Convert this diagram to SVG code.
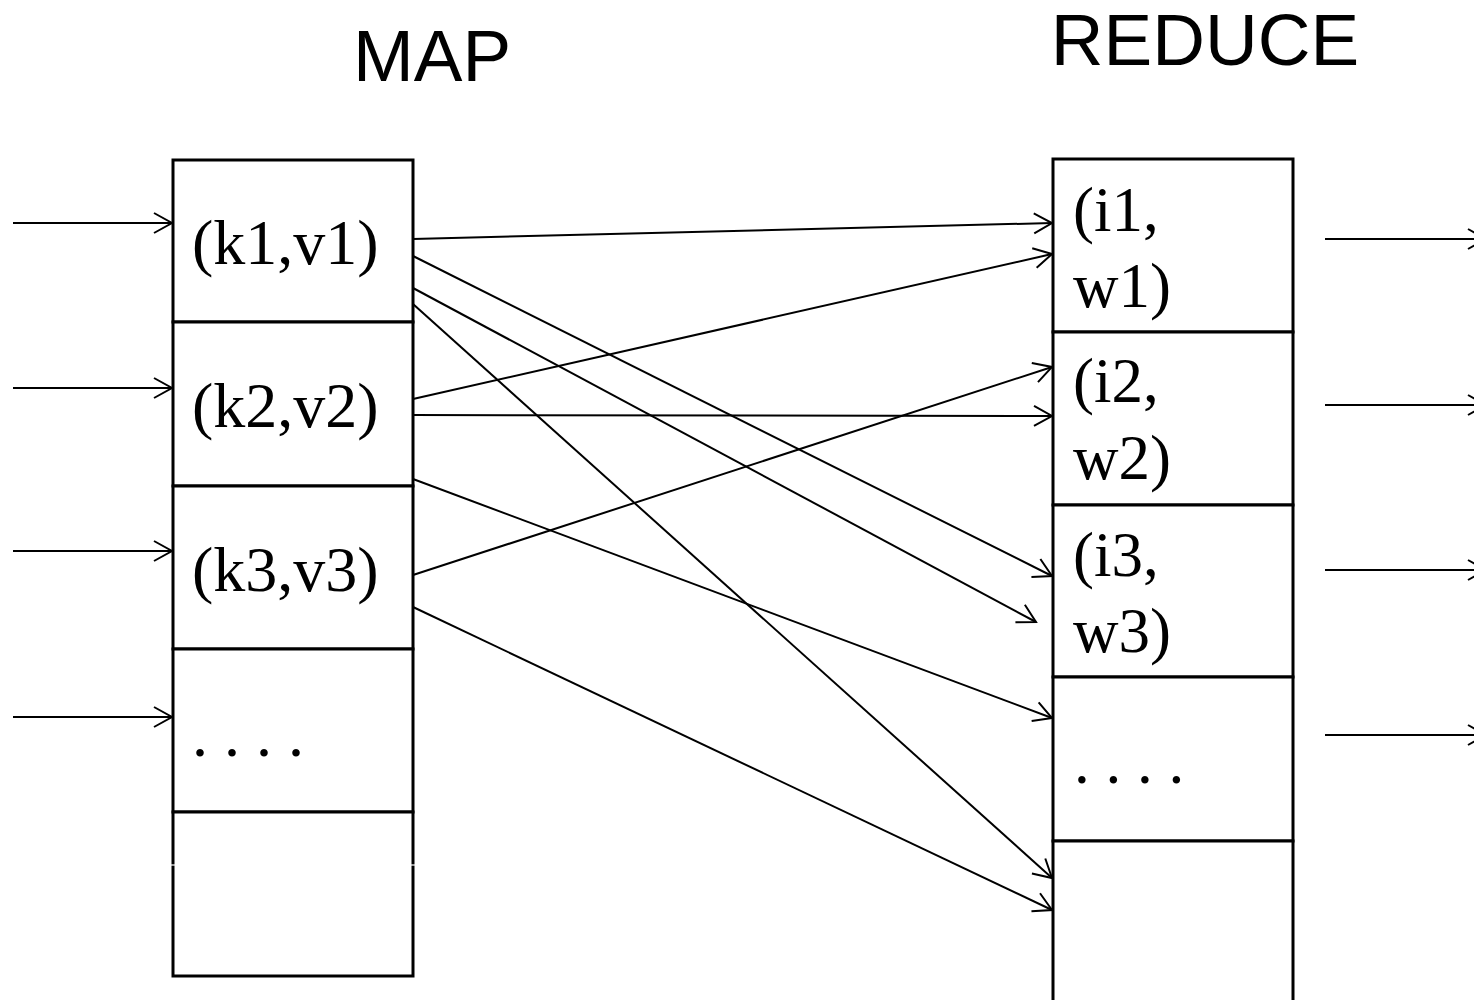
<svg xmlns="http://www.w3.org/2000/svg" width="1474" height="1000" viewBox="0 0 1474 1000">
<defs>
<style>
.cell{fill:#fff;stroke:#000;stroke-width:3}
.t{font-family:"Liberation Serif","Times New Roman",serif;fill:#000}
.tm{font-size:64px}
.tr{font-size:63px}
.h{font-family:"Liberation Sans",Arial,sans-serif;font-size:73px;fill:#000;text-anchor:middle}
.c{stroke:#000;stroke-width:2;fill:none;marker-end:url(#ah)}
</style>
<marker id="ah" markerUnits="userSpaceOnUse" orient="auto" overflow="visible" markerWidth="1" markerHeight="1" refX="0" refY="0">
<path d="M-18,-10 L0,0 L-18,10" fill="none" stroke="#000" stroke-width="2"/>
</marker>
</defs>
<rect width="1474" height="1000" fill="#fff"/>
<g id="titles">
<text class="h" x="432" y="81">MAP</text>
<text class="h" x="1205" y="65">REDUCE</text>
</g>
<g id="map">
<g id="map-k1"><rect class="cell" x="173" y="160" width="240" height="162"/><text class="t tm" x="192" y="264">(k1,v1)</text></g>
<g id="map-k2"><rect class="cell" x="173" y="322" width="240" height="164"/><text class="t tm" x="192" y="427">(k2,v2)</text></g>
<g id="map-k3"><rect class="cell" x="173" y="486" width="240" height="163"/><text class="t tm" x="192" y="591">(k3,v3)</text></g>
<g id="map-more"><rect class="cell" x="173" y="649" width="240" height="163"/><text class="t tm" x="192" y="756">. . . .</text></g>
<g id="map-empty"><rect class="cell" x="173" y="812" width="240" height="164"/><line x1="170" y1="865" x2="177" y2="865" stroke="#fff" stroke-width="1.2"/><line x1="409" y1="865" x2="416" y2="865" stroke="#fff" stroke-width="1.2"/></g>
</g>
<g id="reduce">
<g id="red-i1"><rect class="cell" x="1053" y="159" width="240" height="173"/><text class="t tr" x="1073" y="231">(i1,</text><text class="t tr" x="1073" y="307">w1)</text></g>
<g id="red-i2"><rect class="cell" x="1053" y="332" width="240" height="173"/><text class="t tr" x="1073" y="402">(i2,</text><text class="t tr" x="1073" y="479">w2)</text></g>
<g id="red-i3"><rect class="cell" x="1053" y="505" width="240" height="172"/><text class="t tr" x="1073" y="576">(i3,</text><text class="t tr" x="1073" y="652">w3)</text></g>
<g id="red-more"><rect class="cell" x="1053" y="677" width="240" height="164"/><text class="t tr" x="1074" y="783">. . . .</text></g>
<g id="red-empty"><rect class="cell" x="1053" y="841" width="240" height="180"/></g>
</g>
<g id="connectors">
<line class="c" x1="13" y1="223" x2="172" y2="223"/>
<line class="c" x1="13" y1="388" x2="172" y2="388"/>
<line class="c" x1="13" y1="551" x2="172" y2="551"/>
<line class="c" x1="13" y1="717" x2="172" y2="717"/>
<line class="c" x1="413" y1="239" x2="1052" y2="223"/>
<line class="c" x1="413" y1="256" x2="1052" y2="576"/>
<line class="c" x1="413" y1="288" x2="1036" y2="622"/>
<line class="c" x1="413" y1="304" x2="1052" y2="878"/>
<line class="c" x1="413" y1="399" x2="1052" y2="254"/>
<line class="c" x1="413" y1="415" x2="1052" y2="416"/>
<line class="c" x1="413" y1="479" x2="1052" y2="718"/>
<line class="c" x1="413" y1="575" x2="1052" y2="367"/>
<line class="c" x1="413" y1="607" x2="1052" y2="910"/>
<line class="c" x1="1325" y1="239" x2="1486" y2="239"/>
<line class="c" x1="1325" y1="405" x2="1486" y2="405"/>
<line class="c" x1="1325" y1="570" x2="1486" y2="570"/>
<line class="c" x1="1325" y1="735" x2="1486" y2="735"/>
</g>
</svg>
